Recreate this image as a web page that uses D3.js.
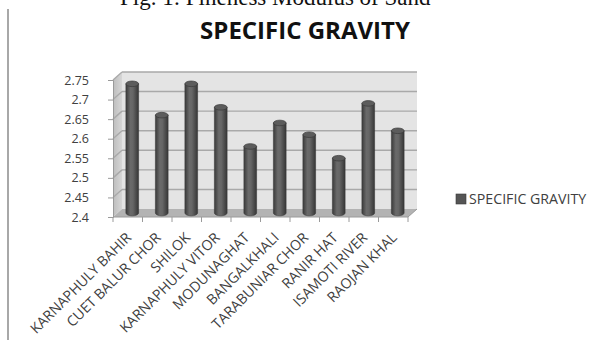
<!DOCTYPE html>
<html>
<head>
<meta charset="utf-8">
<script src="https://cdn.jsdelivr.net/npm/d3@7/dist/d3.min.js"></script>
<style>
  html, body { margin: 0; padding: 0; background: #fff; }
  svg { display: block; }
  text { font-family: "Open Sans", "DejaVu Sans", sans-serif; }
</style>
</head>
<body>
<svg id="chart" width="598" height="342"></svg>
<script>
// Sampling sites and their specific gravity
const categories = [
  "KARNAPHULY BAHIR", "CUET BALUR CHOR", "SHILOK", "KARNAPHULY VITOR",
  "MODUNAGHAT", "BANGALKHALI", "TARABUNIAR CHOR", "RANIR HAT",
  "ISAMOTI RIVER", "RAOJAN KHAL"
];
const specificGravity = [2.73, 2.65, 2.73, 2.67, 2.57, 2.63, 2.60, 2.54, 2.68, 2.61];
const yTicks = [2.4, 2.45, 2.5, 2.55, 2.6, 2.65, 2.7, 2.75];
const seriesName = "SPECIFIC GRAVITY";
const chartTitle = "SPECIFIC GRAVITY";
const captionText = "Fig. 1: Fineness Modulus of Sand";

const svg = d3.select("#chart");

// front plane of the 3-D box and its depth offset
const plotLeft = 113, plotRight = 408, plotTop = 80, plotBottom = 217;
const depthX = 9, depthY = 8;

const x = d3.scaleBand().domain(categories).range([plotLeft, plotRight]).paddingInner(0).paddingOuter(0);
const y = d3.scaleLinear().domain([2.4, 2.75]).range([plotBottom, plotTop]);

const defs = svg.append("defs");
const barGrad = defs.append("linearGradient").attr("id", "barGrad").attr("x1", 0).attr("x2", 1).attr("y1", 0).attr("y2", 0);
[[0, "#3a3a3a"], [0.35, "#6a6a6a"], [0.55, "#666"], [1, "#363636"]]
  .forEach(([o, c]) => barGrad.append("stop").attr("offset", o).attr("stop-color", c));
const sideGrad = defs.append("linearGradient").attr("id", "sideGrad").attr("x1", 0).attr("x2", 1).attr("y1", 0).attr("y2", 0);
[[0, "#bdbdbd"], [1, "#d6d6d6"]].forEach(([o, c]) => sideGrad.append("stop").attr("offset", o).attr("stop-color", c));

// caption running off the top edge
svg.append("text").attr("x", 120).attr("y", 5)
  .style("font-family", "'Liberation Serif', 'Times New Roman', serif")
  .style("font-size", "23px").attr("fill", "#111").text(captionText);

// left margin rule
svg.append("line").attr("x1", 8).attr("x2", 8).attr("y1", 9).attr("y2", 340)
  .attr("stroke", "#a8a8a8").attr("stroke-width", 2);

// title
svg.append("text").attr("x", 305).attr("y", 39).attr("text-anchor", "middle")
  .style("font-size", "24px").style("font-weight", "700").attr("fill", "#111").text(chartTitle);

const bx0 = plotLeft + depthX, bx1 = plotRight + depthX;
const yb = v => y(v) - depthY;

// back wall
svg.append("rect").attr("x", bx0).attr("y", yb(2.75)).attr("width", bx1 - bx0).attr("height", yb(2.4) - yb(2.75))
  .attr("fill", "#e4e4e4");
// side wall
svg.append("path").attr("d", `M${plotLeft},${y(2.75)}L${bx0},${yb(2.75)}L${bx0},${yb(2.4)}L${plotLeft},${y(2.4)}Z`)
  .attr("fill", "url(#sideGrad)");
// floor
svg.append("path").attr("d", `M${plotLeft},${y(2.4)}L${bx0},${yb(2.4)}L${bx1},${yb(2.4)}L${plotRight},${y(2.4)}Z`)
  .attr("fill", "#b3b3b3");

// gridlines on the back and side walls
const grid = svg.append("g").attr("stroke", "#a9a9a9").attr("stroke-width", 1.4).attr("fill", "none");
grid.selectAll("line.back").data(yTicks.filter(t => t > 2.4)).join("line").attr("class", "back")
  .attr("x1", bx0).attr("x2", bx1).attr("y1", d => yb(d)).attr("y2", d => yb(d));
grid.selectAll("line.side").data(yTicks.filter(t => t > 2.4)).join("line").attr("class", "side")
  .attr("x1", plotLeft).attr("x2", bx0).attr("y1", d => y(d)).attr("y2", d => yb(d));

// y axis
const yAxis = svg.append("g").attr("transform", `translate(${plotLeft},0)`)
  .call(d3.axisLeft(y).tickValues(yTicks).tickSize(5).tickPadding(19).tickFormat(d => String(+d.toFixed(2))));
yAxis.select(".domain").attr("stroke", "#9a9a9a");
yAxis.selectAll(".tick line").attr("stroke", "#9a9a9a");
yAxis.selectAll(".tick text").attr("fill", "#404040").style("font-size", "12.5px");

// x axis: line, ticks between categories, rotated labels
const xa = svg.append("g");
xa.append("line").attr("x1", plotLeft).attr("x2", plotRight).attr("y1", plotBottom).attr("y2", plotBottom).attr("stroke", "#9a9a9a");
const bounds = categories.map(c => x(c)).concat([x(categories[categories.length - 1]) + x.bandwidth()]);
xa.selectAll("line.tk").data(bounds).join("line").attr("class", "tk")
  .attr("x1", d => d).attr("x2", d => d).attr("y1", plotBottom).attr("y2", plotBottom + 5).attr("stroke", "#9a9a9a");
xa.append("line").attr("x1", plotRight).attr("x2", bx1).attr("y1", plotBottom).attr("y2", yb(2.4)).attr("stroke", "#9a9a9a");
xa.selectAll("text").data(categories).join("text")
  .attr("transform", d => `translate(${x(d) + x.bandwidth() / 2 + 1},${plotBottom + 18}) rotate(-45)`)
  .attr("text-anchor", "end").attr("dy", "0.35em")
  .style("font-size", "14.2px").attr("fill", "#404040").text(d => d);

// cylinders, placed half-way into the depth
const bw = 12.7, ry = 2.8;
const bars = svg.append("g").selectAll("g").data(categories.map((c, i) => ({ c, v: specificGravity[i] }))).join("g")
  .attr("transform", d => `translate(${x(d.c) + x.bandwidth() / 2 + depthX / 2},${-depthY / 2})`);
bars.append("path")
  .attr("d", d => {
    const y0 = y(2.4), y1 = y(d.v), h = bw / 2;
    return `M${-h},${y1}L${-h},${y0}A${h},${ry} 0 0 0 ${h},${y0}L${h},${y1}Z`;
  })
  .attr("fill", "url(#barGrad)").attr("stroke", "#3a3a3a").attr("stroke-width", 0.6);
bars.append("ellipse").attr("cx", 0).attr("cy", d => y(d.v)).attr("rx", bw / 2).attr("ry", ry)
  .attr("fill", "#5c5c5c").attr("stroke", "#3a3a3a").attr("stroke-width", 0.7);

// legend
const lg = svg.append("g").attr("transform", "translate(456,194)");
lg.append("rect").attr("width", 10).attr("height", 10).attr("fill", "#555").attr("stroke", "#3a3a3a").attr("stroke-width", 0.6);
lg.append("text").attr("x", 13).attr("y", 5).attr("dy", "0.35em").style("font-size", "14.2px").attr("fill", "#404040").text(seriesName);
</script>
</body>
</html>
